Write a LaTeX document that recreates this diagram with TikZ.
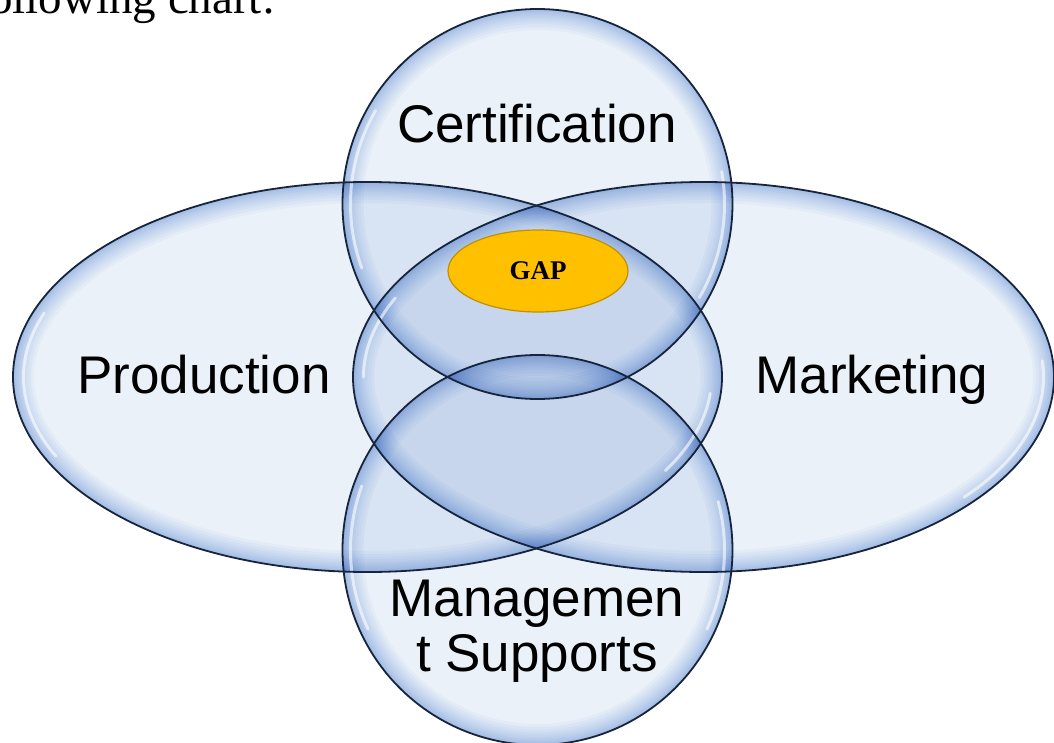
\documentclass[tikz,border=0pt]{standalone}
\usepackage{fontspec}
\setmainfont{Liberation Serif}
\newfontfamily\labelfont{Liberation Sans}
\usetikzlibrary{shapes.geometric}

% glassy bubble colours
\definecolor{bubcore}{RGB}{235,241,249}
\definecolor{bubedge}{RGB}{96,150,218}
\definecolor{bubline}{RGB}{22,36,60}
\definecolor{gapfill}{RGB}{255,192,0}
\definecolor{gapline}{RGB}{191,144,0}

\tikzset{
  bubbleline/.style={draw=bubline, line width=1.8bp},
  rimband/.style={draw=bubedge, draw opacity=0.055},
  gloss/.style={draw=white, line width=3bp, draw opacity=0.6, line cap=round},
  bubblelabel/.style={font=\labelfont\fontsize{53bp}{55bp}\selectfont,
    inner sep=0pt, text=black},
}

% pale glass body: flat core, then nested strokes clipped inside the
% outline build a blue band that deepens toward the rim
\newcommand\glassbody[1]{%
  \fill[bubcore] #1;
  \begin{scope}
    \clip #1;
    \foreach \w in {42bp,36bp,30bp,25bp,20bp,16bp,12bp,8bp,5bp}
      {\draw[rimband, line width=\w] #1;}
  \end{scope}}

\begin{document}
\begin{tikzpicture}[x=1bp,y=-1bp]
  \useasboundingbox (0,0) rectangle (1054,743);

  % translucent bodies, multiplied so overlaps darken
  \begin{scope}[blend mode=multiply]
    \glassbody{(367.5,377) ellipse [x radius=354.5bp, y radius=195bp]}
    \glassbody{(703.5,377) ellipse [x radius=350.5bp, y radius=195bp]}
    \glassbody{(537.5,204) circle [radius=195bp]}
    \glassbody{(537.5,550) circle [radius=195bp]}
  \end{scope}

  % glossy reflections just inside the left and right rims
  \draw[gloss] (367.5,377) ++(160:344bp and 187bp)
    arc[start angle=160, end angle=205, x radius=344bp, y radius=187bp];
  \draw[gloss] (367.5,377) ++(-30:344bp and 187bp)
    arc[start angle=-30, end angle=-5, x radius=344bp, y radius=187bp];
  \draw[gloss] (703.5,377) ++(155:340bp and 187bp)
    arc[start angle=155, end angle=180, x radius=340bp, y radius=187bp];
  \draw[gloss] (703.5,377) ++(-40:340bp and 187bp)
    arc[start angle=-40, end angle=5, x radius=340bp, y radius=187bp];
  \draw[gloss] (537.5,204) ++(150:187bp)
    arc[start angle=150, end angle=200, radius=187bp];
  \draw[gloss] (537.5,204) ++(-30:187bp)
    arc[start angle=-30, end angle=10, radius=187bp];
  \draw[gloss] (537.5,550) ++(160:187bp)
    arc[start angle=160, end angle=205, radius=187bp];
  \draw[gloss] (537.5,550) ++(-25:187bp)
    arc[start angle=-25, end angle=15, radius=187bp];

  % outlines on top of all bodies
  \draw[bubbleline] (367.5,377) ellipse [x radius=354.5bp, y radius=195bp];
  \draw[bubbleline] (703.5,377) ellipse [x radius=350.5bp, y radius=195bp];
  \draw[bubbleline] (537.5,204) circle [radius=195bp];
  \draw[bubbleline] (537.5,550) circle [radius=195bp];

  % labels
  \node[bubblelabel, anchor=base] (cert) at (537,142) {Certification};
  \node[bubblelabel, anchor=base] (prod) at (204,393) {Production};
  \node[bubblelabel, anchor=base] (mark) at (872,393) {Marketing};
  \node[bubblelabel, anchor=base, align=center] (mgmt) at (537,671)
    {Managemen\\t Supports};

  % centre tag
  \node[ellipse, draw=gapline, line width=1.2bp, fill=gapfill,
        minimum width=180bp, minimum height=82bp, inner sep=0pt,
        font=\bfseries\fontsize{27bp}{29bp}\selectfont] (gap) at (538,271) {GAP};

  % caption line running off the top edge
  \node[anchor=base west, inner sep=0pt,
        font=\fontsize{47bp}{50bp}\selectfont] (caption) at (-11,13.5) {ollowing chart:};
\end{tikzpicture}
\end{document}
